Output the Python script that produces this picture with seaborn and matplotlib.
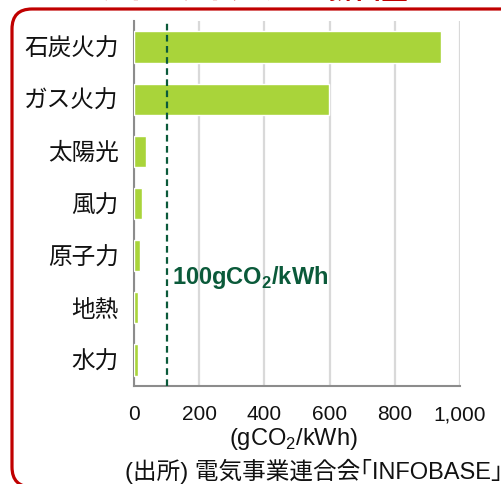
import numpy as np
import pandas as pd
import matplotlib
matplotlib.use("Agg")
import matplotlib.pyplot as plt
import seaborn as sns
from matplotlib.patches import FancyBboxPatch
from matplotlib.ticker import FuncFormatter

# data (gCO2/kWh)
sources = ["石炭火力", "ガス火力", "太陽光", "風力", "原子力", "地熱", "水力"]
emissions = [943, 599, 38, 26, 19, 13, 11]
xticks = [0, 200, 400, 600, 800, 1000]
threshold = 100

df = pd.DataFrame({"source": sources, "co2": emissions})

sns.set_style("white")
plt.rcParams["font.family"] = ["Liberation Sans", "Noto Sans CJK JP", "DejaVu Sans"]
plt.rcParams["mathtext.fontset"] = "custom"
plt.rcParams["mathtext.rm"] = "Liberation Sans"
plt.rcParams["mathtext.bf"] = "Liberation Sans:bold"

fig = plt.figure(figsize=(5.02, 4.84), dpi=100)
ax = fig.add_axes([134 / 502, 1 - 386 / 484, 326 / 502, 365 / 484])

sns.barplot(data=df, x="co2", y="source", orient="h", color="#a9d43a",
            width=0.6, saturation=1, ax=ax, zorder=3)

# 100 g line and its label
ax.axvline(threshold, color="#0b5a3a", lw=1.6, ls=(0, (3, 2)), zorder=4)
ax.text(118, 4.42, r"100gCO$_\mathbf{2}$/kWh", color="#0b5a3a",
        fontsize=17, fontweight="bold", va="center", ha="left", zorder=5)

ax.set_xlim(0, 1000)
ax.set_ylim(6.5, -0.5)
ax.set_xticks(xticks)
ax.xaxis.set_major_formatter(FuncFormatter(lambda v, p: f"{int(v):,}"))
ax.tick_params(axis="x", length=0, pad=14, labelsize=15, labelcolor="#111111")
ax.tick_params(axis="y", which="major", length=0, pad=11, labelsize=17,
               labelcolor="#111111")
for lab in ax.get_yticklabels():
    lab.set_family(["Noto Sans CJK JP"])
ax.set_yticks(np.arange(0.5, 6.5, 1), minor=True)
ax.tick_params(axis="y", which="minor", length=6, direction="inout",
               color="#8c8c8c", width=1.2)
ax.grid(axis="x", color="#d9d9d9", lw=1.6, zorder=0)
ax.set_axisbelow(True)
ax.set_xlabel("")
ax.set_ylabel("")
for s in ["top", "right"]:
    ax.spines[s].set_visible(False)
for s in ["left", "bottom"]:
    ax.spines[s].set_color("#8c8c8c")
    ax.spines[s].set_linewidth(1.5)

fig.text(293 / 502, 1 - 439 / 484, r"(gCO$_2$/kWh)", ha="center", va="center",
         fontsize=17, color="#111111")
fig.text(125 / 502, 1 - 471 / 484, "(出所) 電気事業連合会｢INFOBASE｣",
         ha="left", va="center", fontsize=17, color="#111111",
         family=["Liberation Sans", "Noto Sans CJK JP"])

# red frame from the slide, partly cut off
frame = FancyBboxPatch((0.12, -0.03), 5.3, 4.78,
                       boxstyle="round,pad=0,rounding_size=0.2",
                       transform=fig.dpi_scale_trans, fill=False,
                       ec="#c00000", lw=2.3, clip_on=False)
fig.patches.append(frame)

# slide title, mostly above the crop
fig.text(252 / 502, 1 - 5 / 484, "ライフサイクルCO₂排出量", ha="center",
         va="bottom", fontsize=19, fontweight="bold", color="#c00000",
         family=["Noto Sans CJK JP", "DejaVu Sans"])

fig.savefig("out.png", dpi=100)
